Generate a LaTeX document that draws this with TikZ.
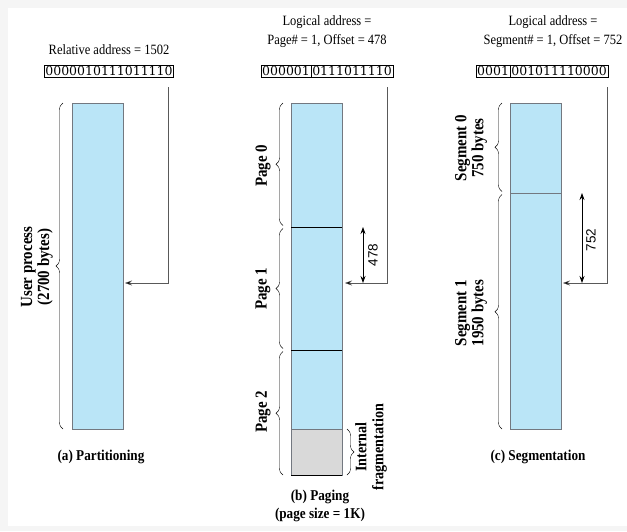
\documentclass[tikz,border=0pt]{standalone}
\usepackage{fontspec}
\setmainfont{Liberation Serif}
\setsansfont{Liberation Sans}
\newfontfamily\etroit[FakeStretch=0.88]{Liberation Serif}
\newfontfamily\bitsfont{DejaVu Serif}
\usetikzlibrary{arrows.meta,shapes.multipart,decorations.pathreplacing}
\definecolor{procbleu}{rgb}{0.73, 0.9, 0.97}
\definecolor{fraggris}{rgb}{0.85, 0.85, 0.85}
\definecolor{bordgris}{rgb}{0.45, 0.47, 0.5}
\definecolor{fondgris}{rgb}{0.96, 0.96, 0.96}

\begin{document}
\begin{tikzpicture}[x=1pt, y=-1pt]
	\tikzstyle{zone}=[draw=bordgris, fill=procbleu, inner sep=0pt, minimum width=51pt, anchor=north west]
	\tikzstyle{etiq}=[rotate=90, font=\etroit\bfseries\fontsize{17}{17}\selectfont, align=center]
	\tikzstyle{titre}=[font=\etroit\fontsize{14.2}{19}\selectfont, align=center]
	\tikzstyle{legende}=[font=\etroit\bfseries\fontsize{15}{18}\selectfont, align=center]
	\tikzstyle{adr}=[draw, inner xsep=1pt, inner ysep=1.5pt, font=\bitsfont\fontsize{12.5}{12.5}\selectfont]
	\tikzstyle{accolade}=[decorate, decoration={brace, amplitude=7pt}]
	\tikzstyle{pointeur}=[draw=black!65, -{Stealth[length=7pt, width=5pt, fill=black]}]
	\tikzstyle{cote}=[thick, {Stealth[length=7pt, width=5pt]}-{Stealth[length=7pt, width=5pt]}]
	\tikzstyle{valeur}=[rotate=90, font=\sffamily\fontsize{13.5}{13.5}\selectfont]

	% FOND
	\fill[fondgris] (0,0) rectangle (627,531);
	\fill[white] (8,8) rectangle (627,526);
	\useasboundingbox (0,0) rectangle (627,531);

	% (a) PARTITIONNEMENT
	\node[titre] (titreA) at (109,50) {Relative address = 1502};
	\node[adr] (adrA) at (109,71) {0000010111011110};
	\node[zone, minimum height=326pt] (procA) at (72,103) {};
	\draw[accolade] (63,429) -- (63,103);
	\node[etiq] (lblA) at (37,267) {User process\\(2700 bytes)};
	\node[legende] (legA) at (101,457) {(a) Partitioning};
	\coordinate (depA) at (168,87);
	\coordinate (ciblA) at (125,283);
	\draw[pointeur] (depA) |- (ciblA);

	% (b) PAGINATION
	\node[titre] (titreB) at (327,32) {Logical address =\\Page\# = 1, Offset = 478};
	\node[adr, rectangle split, rectangle split horizontal, rectangle split parts=2] (adrB) at (327,71) {000001\nodepart{two}0111011110};
	\node[zone, minimum height=124pt] (page0) at (291,103) {};
	\node[zone, minimum height=123pt] (page1) at (291,227) {};
	\node[zone, minimum height=79pt] (page2) at (291,350) {};
	\node[zone, fill=fraggris, minimum height=46pt] (frag) at (291,429) {};
	\draw[very thick] (page0.south west) -- (page0.south east);
	\draw[very thick] (page1.south west) -- (page1.south east);
	\draw[very thick] (frag.south west) -- (frag.south east);
	\draw[accolade] (283,225.5) -- (283,103);
	\draw[accolade] (283,348.5) -- (283,228.5);
	\draw[accolade] (283,475) -- (283,351.5);
	\node[etiq] (lblP0) at (263,166) {Page 0};
	\node[etiq] (lblP1) at (263,289) {Page 1};
	\node[etiq] (lblP2) at (263,412) {Page 2};
	\draw[accolade] (347,429) -- (347,475);
	\node[etiq, font=\etroit\bfseries\fontsize{16}{17}\selectfont] (lblFrag) at (371,447) {Internal\\fragmentation};
	\node[legende] (legB) at (320,506) {(b) Paging\\(page size = 1K)};
	\coordinate (depB) at (387,87);
	\coordinate (ciblB) at (345,283);
	\draw[pointeur] (depB) |- (ciblB);
	\coordinate (hautB) at (363,227);
	\coordinate (basB) at (363,283);
	\draw[cote] (hautB) -- (basB);
	\node[valeur] (decB) at (373,255) {478};

	% (c) SEGMENTATION
	\node[titre] (titreC) at (553,32) {Logical address =\\Segment\# = 1, Offset = 752};
	\node[adr, rectangle split, rectangle split horizontal, rectangle split parts=2] (adrC) at (542,71) {0001\nodepart{two}001011110000};
	\node[zone, minimum height=90pt] (seg0) at (510,103) {};
	\node[zone, minimum height=236pt] (seg1) at (510,193) {};
	\draw[accolade] (502,191.5) -- (502,103);
	\draw[accolade] (502,429) -- (502,194.5);
	\node[etiq] (lblS0) at (471,148) {Segment 0\\750 bytes};
	\node[etiq] (lblS1) at (471,313) {Segment 1\\1950 bytes};
	\node[legende] (legC) at (538,457) {(c) Segmentation};
	\coordinate (depC) at (607,87);
	\coordinate (ciblC) at (563,283);
	\draw[pointeur] (depC) |- (ciblC);
	\coordinate (hautC) at (582,193);
	\coordinate (basC) at (582,283);
	\draw[cote] (hautC) -- (basC);
	\node[valeur] (decC) at (591,240) {752};
\end{tikzpicture}
\end{document}
